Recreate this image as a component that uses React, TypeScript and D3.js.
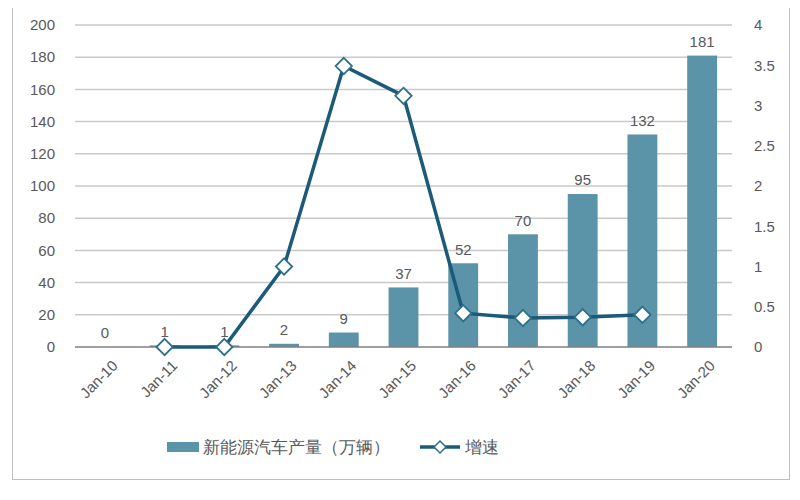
import { useEffect, useRef } from "react";
import * as d3 from "d3";

const years = ["Jan-10", "Jan-11", "Jan-12", "Jan-13", "Jan-14", "Jan-15", "Jan-16", "Jan-17", "Jan-18", "Jan-19", "Jan-20"];
const output = [0, 1, 1, 2, 9, 37, 52, 70, 95, 132, 181];
const growth: (number | null)[] = [null, 0, 0, 1.0, 3.49, 3.12, 0.42, 0.36, 0.37, 0.4, null];
const leftTicks = [0, 20, 40, 60, 80, 100, 120, 140, 160, 180, 200];
const rightTicks = [0, 0.5, 1, 1.5, 2, 2.5, 3, 3.5, 4];
const barLabel = "新能源汽车产量（万辆）";
const lineLabel = "增速";

export default function App() {
    const ref = useRef<SVGSVGElement | null>(null);

    useEffect(() => {
        if (!ref.current) return;
        const svg = d3.select(ref.current);
        svg.selectAll("*").remove();

        const width = 800;
        const height = 500;
        const margin = { top: 25, right: 68, bottom: 153, left: 75 };
        const font = "'Liberation Sans', Arial, sans-serif";
        const textColor = "#595959";

        svg.append("rect")
            .attr("x", 12.5).attr("y", 2.5)
            .attr("width", 777).attr("height", 477)
            .attr("fill", "#fff")
            .attr("stroke", "#bfbfbf");

        const x = d3.scaleBand()
            .domain(years)
            .range([margin.left, width - margin.right])
            .paddingInner(0.5)
            .paddingOuter(0.25);

        const y = d3.scaleLinear().domain([0, 200]).range([height - margin.bottom, margin.top]);
        const y2 = d3.scaleLinear().domain([0, 4]).range([height - margin.bottom, margin.top]);

        // gridlines
        svg.append("g")
            .selectAll("line")
            .data(leftTicks.filter(t => t > 0))
            .enter()
            .append("line")
            .attr("x1", margin.left)
            .attr("x2", width - margin.right)
            .attr("y1", d => y(d))
            .attr("y2", d => y(d))
            .attr("stroke", "#c9c9c9")
            .attr("stroke-width", 1.5);

        // left axis labels
        svg.append("g")
            .selectAll("text")
            .data(leftTicks)
            .enter()
            .append("text")
            .attr("x", margin.left - 20)
            .attr("y", d => y(d))
            .attr("dy", "0.35em")
            .attr("text-anchor", "end")
            .attr("font-family", font)
            .attr("font-size", 15)
            .attr("fill", textColor)
            .text(d => d);

        // right axis labels
        svg.append("g")
            .selectAll("text")
            .data(rightTicks)
            .enter()
            .append("text")
            .attr("x", width - margin.right + 22)
            .attr("y", d => y2(d))
            .attr("dy", "0.35em")
            .attr("text-anchor", "start")
            .attr("font-family", font)
            .attr("font-size", 15)
            .attr("fill", textColor)
            .text(d => d);

        // bars
        svg.append("g")
            .selectAll("rect")
            .data(output)
            .enter()
            .append("rect")
            .attr("x", (_, i) => x(years[i])!)
            .attr("y", d => y(d))
            .attr("width", x.bandwidth())
            .attr("height", d => y(0) - y(d))
            .attr("fill", "#5b93a9");

        // bar labels
        svg.append("g")
            .selectAll("text")
            .data(output)
            .enter()
            .append("text")
            .attr("x", (_, i) => x(years[i])! + x.bandwidth() / 2)
            .attr("y", d => y(d) - 14)
            .attr("dy", "0.35em")
            .attr("text-anchor", "middle")
            .attr("font-family", font)
            .attr("font-size", 15)
            .attr("fill", textColor)
            .text(d => d);

        // x axis line
        svg.append("line")
            .attr("x1", margin.left)
            .attr("x2", width - margin.right)
            .attr("y1", y(0))
            .attr("y2", y(0))
            .attr("stroke", "#7f7f7f")
            .attr("stroke-width", 1.5);

        // x labels
        svg.append("g")
            .selectAll("text")
            .data(years)
            .enter()
            .append("text")
            .attr("transform", d => `translate(${x(d)! + x.bandwidth() / 2 + 10},${y(0) + 16}) rotate(-45)`)
            .attr("text-anchor", "end")
            .attr("dy", "0.35em")
            .attr("font-family", font)
            .attr("font-size", 15)
            .attr("fill", textColor)
            .text(d => d);

        // line
        const pts = growth
            .map((v, i) => ({ v, k: years[i] }))
            .filter(p => p.v !== null) as { v: number; k: string }[];
        const line = d3.line<{ v: number; k: string }>()
            .x(d => x(d.k)! + x.bandwidth() / 2)
            .y(d => y2(d.v));
        svg.append("path")
            .datum(pts)
            .attr("d", line)
            .attr("fill", "none")
            .attr("stroke", "#1b5a78")
            .attr("stroke-width", 3.5);

        const diamond = d3.symbol().type(d3.symbolDiamond2).size(170);
        svg.append("g")
            .selectAll("path")
            .data(pts)
            .enter()
            .append("path")
            .attr("d", diamond)
            .attr("transform", d => `translate(${x(d.k)! + x.bandwidth() / 2},${y2(d.v)})`)
            .attr("fill", "#fff")
            .attr("stroke", "#2e6f8c")
            .attr("stroke-width", 1.8);

        // legend
        const lg = svg.append("g").attr("font-family", font).attr("font-size", 17).attr("fill", textColor);
        lg.append("rect").attr("x", 167).attr("y", 442).attr("width", 32).attr("height", 10).attr("fill", "#5b93a9");
        lg.append("text").attr("x", 203).attr("y", 447).attr("dy", "0.35em").text(barLabel);
        lg.append("line").attr("x1", 420).attr("x2", 460).attr("y1", 447).attr("y2", 447)
            .attr("stroke", "#1b5a78").attr("stroke-width", 3.5);
        lg.append("path").attr("d", d3.symbol().type(d3.symbolDiamond2).size(90)())
            .attr("transform", "translate(440,447)")
            .attr("fill", "#fff").attr("stroke", "#2e6f8c").attr("stroke-width", 1.5);
        lg.append("text").attr("x", 465).attr("y", 447).attr("dy", "0.35em").text(lineLabel);
    }, []);

    return (
        <div style={{ margin: -8 }}>
            <svg ref={ref} width={800} height={500} style={{ display: "block" }} />
        </div>
    );
}
